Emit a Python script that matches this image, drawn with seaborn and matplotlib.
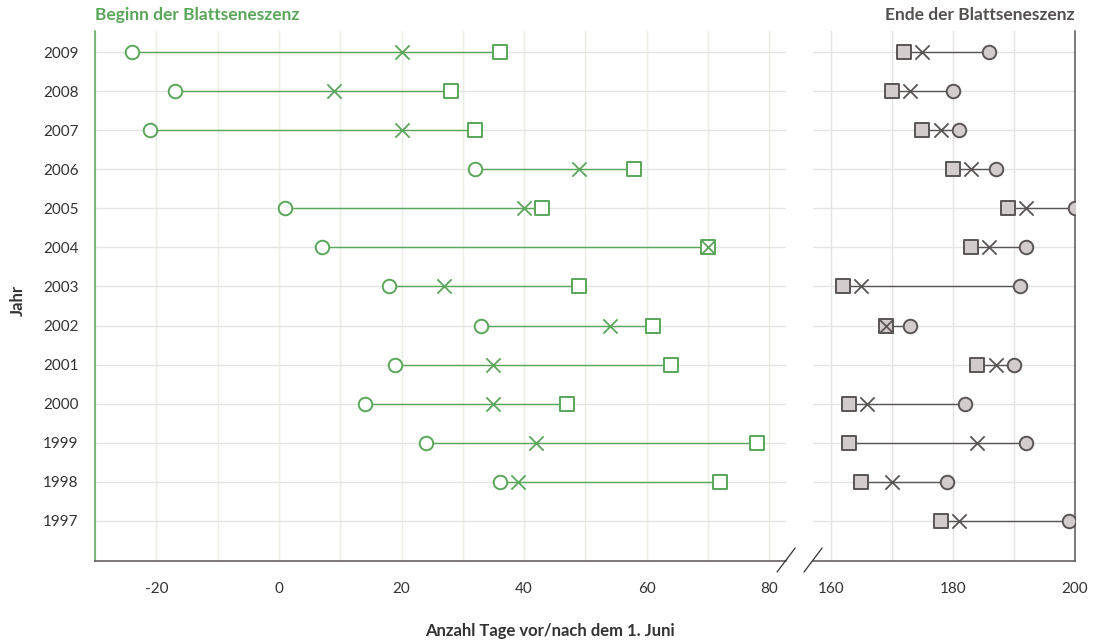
import numpy as np
import pandas as pd
import seaborn as sns
import matplotlib.pyplot as plt
from matplotlib.lines import Line2D

sns.set_style("white")
plt.rcParams['font.family'] = ['Lato', 'DejaVu Sans']

jahre = [2009, 2008, 2007, 2006, 2005, 2004, 2003, 2002, 2001, 2000, 1999, 1998, 1997]

# Beginn der Blattseneszenz (Tage vor/nach 1. Juni), 1997 fehlt
beginn_kreis = [-24, -17, -21, 32, 1, 7, 18, 33, 19, 14, 24, 36, np.nan]
beginn_kreuz = [20, 9, 20, 49, 40, 70, 27, 54, 35, 35, 42, 39, np.nan]
beginn_quadrat = [36, 28, 32, 58, 43, 70, 49, 61, 64, 47, 78, 72, np.nan]

# Ende der Blattseneszenz
ende_kreis = [186, 180, 181, 187, 200, 192, 191, 173, 190, 182, 192, 179, 199]
ende_kreuz = [175, 173, 178, 183, 192, 186, 165, 169, 187, 166, 184, 170, 181]
ende_quadrat = [172, 170, 175, 180, 189, 183, 162, 169, 184, 163, 163, 165, 178]

gruen = "#5aa65a"
grau = "#5a5555"
fuell = "#d3cccc"

beginn = pd.DataFrame({"jahr": jahre, "kreis": beginn_kreis,
                       "kreuz": beginn_kreuz, "quadrat": beginn_quadrat}).dropna()
ende = pd.DataFrame({"jahr": jahre, "kreis": ende_kreis,
                     "kreuz": ende_kreuz, "quadrat": ende_quadrat})

fig = plt.figure(figsize=(11, 6.41), dpi=100)
ax1 = fig.add_axes([0.0864, 0.1248, 0.628, 0.8268])
ax2 = fig.add_axes([0.739, 0.1248, 0.2382, 0.8268])


def zeichne(ax, df, farbe, kreis_fc, quad_fc):
    lang = df.melt(id_vars="jahr", var_name="typ", value_name="tag")
    sns.lineplot(data=lang, x="tag", y="jahr", units="jahr", estimator=None,
                 orient="y", color=farbe, lw=1.0, ax=ax, zorder=2)
    sns.scatterplot(data=df, x="kreis", y="jahr", marker="o", s=95,
                    facecolor=kreis_fc, edgecolor=farbe, linewidth=1.4, ax=ax, zorder=3)
    sns.scatterplot(data=df, x="quadrat", y="jahr", marker="s", s=95,
                    facecolor=quad_fc, edgecolor=farbe, linewidth=1.4, ax=ax, zorder=3)
    sns.scatterplot(data=df, x="kreuz", y="jahr", marker="x", s=105,
                    color=farbe, linewidth=1.3, ax=ax, zorder=4)


zeichne(ax1, beginn, gruen, "white", "white")
zeichne(ax2, ende, grau, fuell, fuell)

ylim = (1995.97, 2009.54)
for ax, xlim, ticks, vcol in [(ax1, (-30, 82.7), range(-30, 81, 10), "#e8efe4"),
                              (ax2, (157.1, 200), range(160, 201, 10), "#e6e1e1")]:
    ax.set_xlim(xlim)
    ax.set_ylim(ylim)
    ax.set_xticks(list(ticks))
    ax.set_xticklabels([str(t) if t % 20 == 0 else "" for t in ticks],
                       fontsize=11, color="#333333")
    ax.tick_params(axis="x", length=12, width=1.0, color="#e4e4e4", pad=3)
    ax.set_yticks(jahre)
    ax.grid(axis="x", color=vcol, lw=1.0)
    ax.grid(axis="y", color="#e4e4e4", lw=1.0)
    ax.set_axisbelow(True)
    ax.set_xlabel("")
    ax.set_ylabel("")
    for s in ax.spines.values():
        s.set_visible(False)
    ax.spines["bottom"].set_visible(True)
    ax.spines["bottom"].set_color(grau)
    ax.spines["bottom"].set_linewidth(1.1)

ax1.set_yticklabels([str(j) for j in jahre], fontsize=11, color="#333333")
ax1.tick_params(axis="y", length=0, pad=12)
ax1.spines["left"].set_visible(True)
ax1.spines["left"].set_color(gruen)
ax1.spines["left"].set_linewidth(1.1)

ax2.set_yticklabels([])
ax2.tick_params(axis="y", length=0)
ax2.spines["right"].set_visible(True)
ax2.spines["right"].set_color(grau)
ax2.spines["right"].set_linewidth(1.1)

# Achsenbruch
for x0 in (0.7064, 0.7309):
    fig.add_artist(Line2D([x0, x0 + 0.0165], [0.1076, 0.1451], color="#333333", lw=0.9))

ax1.set_title("Beginn der Blattseneszenz", loc="left", color=gruen,
              fontsize=12.5, fontweight="bold", pad=8)
ax2.set_title("Ende der Blattseneszenz", loc="right", color="#555050",
              fontsize=12.5, fontweight="bold", pad=8)

fig.text(0.5, 0.0155, "Anzahl Tage vor/nach dem 1. Juni", ha="center", va="center",
         fontsize=12, fontweight="bold", color="#333333")
fig.text(0.016, 0.532, "Jahr", rotation=90, ha="center", va="center",
         fontsize=12, fontweight="bold", color="#333333")

fig.savefig("out.png", dpi=100)
